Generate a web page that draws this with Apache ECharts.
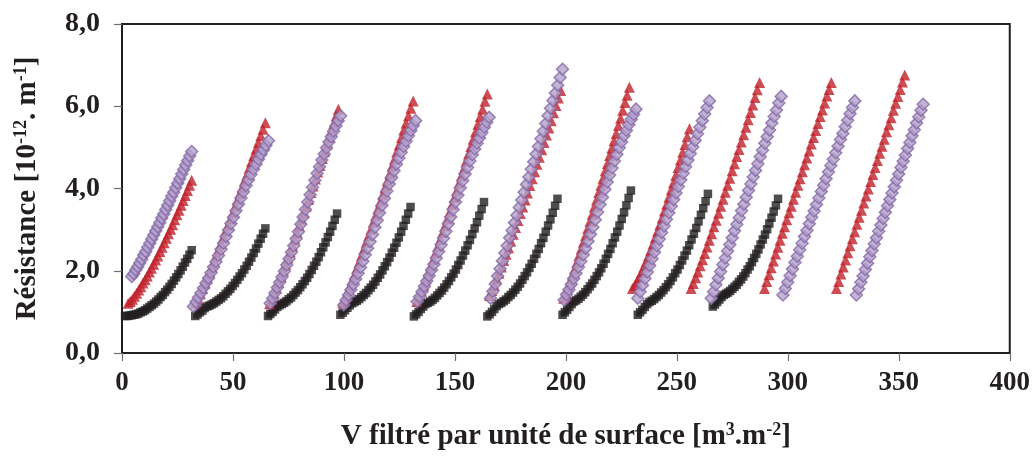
<!DOCTYPE html>
<html><head><meta charset="utf-8">
<script src="https://cdn.jsdelivr.net/npm/echarts@6/dist/echarts.min.js"></script>
<style>html,body{margin:0;padding:0;background:#fff}#c{width:1033px;height:458px}</style>
</head><body><div id="c"></div>
<script>
// ---- data ----
const blackXStart = [1.4, 33.0, 65.8, 98.4, 131.5, 164.6, 198.5, 232.4, 266.2];
const blackXEnd   = [31.4, 64.6, 96.9, 130.0, 163.1, 196.2, 229.3, 264.0, 295.6];
const blackY = [
 [0.90,0.90,0.91,0.92,0.93,0.94,0.96,0.99,1.01,1.04,1.08,1.12,1.16,1.20,1.25,1.30,1.36,1.41,1.48,1.54,1.61,1.68,1.76,1.84,1.92,2.01,2.10,2.20,2.29,2.39,2.50],
 [0.90,0.94,0.99,1.03,1.09,1.13,1.15,1.18,1.21,1.25,1.29,1.33,1.38,1.44,1.50,1.56,1.63,1.70,1.78,1.86,1.94,2.03,2.12,2.22,2.32,2.43,2.54,2.66,2.78,2.90,3.03],
 [0.90,0.95,1.00,1.06,1.12,1.16,1.19,1.22,1.26,1.31,1.35,1.41,1.47,1.53,1.60,1.67,1.75,1.83,1.92,2.02,2.12,2.22,2.33,2.45,2.57,2.69,2.82,2.95,3.09,3.24,3.39],
 [0.93,0.98,1.04,1.10,1.16,1.21,1.24,1.27,1.31,1.36,1.41,1.46,1.53,1.59,1.66,1.74,1.83,1.91,2.01,2.11,2.21,2.32,2.44,2.56,2.68,2.81,2.95,3.09,3.24,3.39,3.55],
 [0.89,0.94,1.00,1.07,1.13,1.19,1.22,1.25,1.29,1.34,1.40,1.46,1.52,1.59,1.67,1.75,1.84,1.93,2.03,2.14,2.25,2.37,2.49,2.62,2.75,2.89,3.03,3.18,3.34,3.50,3.67],
 [0.89,0.94,1.00,1.07,1.14,1.19,1.22,1.26,1.30,1.36,1.41,1.47,1.54,1.61,1.69,1.78,1.87,1.96,2.07,2.17,2.29,2.41,2.53,2.67,2.80,2.95,3.10,3.25,3.41,3.58,3.75],
 [0.93,0.99,1.05,1.12,1.19,1.25,1.28,1.32,1.37,1.42,1.48,1.55,1.62,1.69,1.78,1.87,1.96,2.06,2.17,2.29,2.41,2.53,2.67,2.81,2.95,3.10,3.26,3.42,3.59,3.77,3.95],
 [0.93,0.99,1.05,1.12,1.19,1.24,1.27,1.31,1.36,1.41,1.47,1.53,1.60,1.67,1.75,1.84,1.94,2.03,2.14,2.25,2.37,2.49,2.62,2.76,2.90,3.04,3.20,3.36,3.52,3.69,3.87],
 [1.13,1.18,1.24,1.30,1.36,1.41,1.44,1.47,1.51,1.56,1.61,1.66,1.73,1.79,1.86,1.94,2.03,2.11,2.21,2.31,2.41,2.52,2.64,2.76,2.88,3.01,3.15,3.29,3.44,3.59,3.75]
];

const redXStart = [2.8, 33.2, 66.5, 99.5, 132.8, 165.6, 199.0, 230.0, 256.4, 289.5, 321.9];
const redXEnd   = [31.4, 64.6, 97.5, 131.2, 164.6, 197.7, 228.6, 255.7, 287.3, 319.6, 352.7];
const redY = [
 [1.21,1.25,1.31,1.38,1.45,1.53,1.61,1.70,1.78,1.87,1.97,2.06,2.16,2.26,2.36,2.47,2.57,2.68,2.79,2.90,3.01,3.12,3.24,3.36,3.47,3.59,3.71,3.83,3.95,4.08,4.20],
 [1.22,1.32,1.44,1.57,1.70,1.83,1.97,2.10,2.24,2.39,2.53,2.67,2.82,2.97,3.11,3.26,3.41,3.57,3.72,3.87,4.02,4.18,4.33,4.49,4.65,4.80,4.96,5.12,5.28,5.44,5.60],
 [1.20,1.31,1.44,1.58,1.72,1.86,2.01,2.15,2.31,2.46,2.61,2.77,2.93,3.09,3.25,3.41,3.57,3.73,3.90,4.06,4.23,4.40,4.56,4.73,4.90,5.07,5.24,5.41,5.58,5.76,5.93],
 [1.22,1.34,1.47,1.61,1.76,1.90,2.06,2.21,2.37,2.53,2.69,2.85,3.01,3.18,3.34,3.51,3.68,3.85,4.02,4.19,4.36,4.54,4.71,4.89,5.06,5.24,5.42,5.59,5.77,5.95,6.13],
 [1.25,1.37,1.51,1.65,1.80,1.95,2.11,2.27,2.43,2.59,2.76,2.93,3.09,3.26,3.43,3.61,3.78,3.95,4.13,4.31,4.48,4.66,4.84,5.02,5.20,5.38,5.56,5.75,5.93,6.12,6.30],
 [1.40,1.52,1.65,1.80,1.94,2.09,2.25,2.40,2.56,2.72,2.89,3.05,3.22,3.39,3.55,3.72,3.89,4.07,4.24,4.41,4.59,4.76,4.94,5.12,5.30,5.47,5.65,5.84,6.02,6.20,6.38],
 [1.33,1.45,1.59,1.74,1.89,2.04,2.20,2.37,2.53,2.69,2.86,3.03,3.20,3.37,3.55,3.72,3.90,4.08,4.25,4.43,4.61,4.80,4.98,5.16,5.34,5.53,5.71,5.90,6.09,6.27,6.46],
 [1.57,1.64,1.74,1.84,1.96,2.09,2.22,2.36,2.50,2.65,2.80,2.96,3.12,3.28,3.45,3.62,3.79,3.97,4.14,4.32,4.51,4.69,4.88,5.07,5.26,5.45],
 [1.57,1.69,1.83,1.97,2.12,2.27,2.42,2.58,2.74,2.90,3.07,3.23,3.40,3.57,3.74,3.91,4.08,4.25,4.43,4.60,4.78,4.95,5.13,5.31,5.49,5.67,5.85,6.03,6.21,6.40,6.58],
 [1.57,1.74,1.90,2.07,2.24,2.41,2.57,2.74,2.91,3.07,3.24,3.41,3.57,3.74,3.91,4.08,4.24,4.41,4.58,4.74,4.91,5.08,5.24,5.41,5.58,5.75,5.91,6.08,6.25,6.41,6.58],
 [1.57,1.74,1.92,2.09,2.26,2.44,2.61,2.78,2.95,3.13,3.30,3.47,3.65,3.82,3.99,4.17,4.34,4.51,4.68,4.86,5.03,5.20,5.38,5.55,5.72,5.90,6.07,6.24,6.41,6.59,6.76]
];

const purpleXStart = [4.4, 32.2, 66.8, 99.9, 133.0, 166.0, 199.2, 232.4, 265.5, 297.8, 330.9];
const purpleXEnd   = [31.4, 66.0, 98.5, 132.3, 165.4, 198.5, 231.6, 264.7, 297.0, 330.2, 361.0];
const purpleY = [
 [1.86,1.93,2.02,2.10,2.19,2.28,2.38,2.47,2.57,2.67,2.77,2.87,2.97,3.07,3.17,3.28,3.38,3.49,3.59,3.70,3.81,3.91,4.02,4.13,4.24,4.35,4.46,4.57,4.68,4.79,4.90],
 [1.13,1.24,1.35,1.46,1.58,1.70,1.82,1.95,2.09,2.22,2.37,2.52,2.67,2.83,2.99,3.15,3.30,3.46,3.62,3.77,3.92,4.07,4.21,4.34,4.47,4.59,4.71,4.83,4.94,5.05,5.16],
 [1.21,1.33,1.46,1.59,1.72,1.85,1.99,2.14,2.29,2.45,2.61,2.78,2.95,3.13,3.31,3.49,3.67,3.85,4.03,4.20,4.37,4.53,4.69,4.84,4.99,5.13,5.26,5.39,5.52,5.65,5.77],
 [1.17,1.29,1.41,1.54,1.67,1.80,1.94,2.08,2.23,2.39,2.55,2.71,2.88,3.06,3.23,3.41,3.59,3.76,3.94,4.11,4.27,4.43,4.59,4.74,4.88,5.02,5.15,5.28,5.41,5.53,5.65],
 [1.25,1.37,1.49,1.62,1.75,1.88,2.02,2.16,2.31,2.47,2.63,2.79,2.96,3.14,3.31,3.49,3.67,3.84,4.02,4.19,4.35,4.51,4.67,4.82,4.96,5.10,5.23,5.36,5.49,5.61,5.73],
 [1.33,1.50,1.68,1.87,2.05,2.24,2.43,2.61,2.80,2.98,3.17,3.35,3.54,3.72,3.91,4.10,4.28,4.47,4.65,4.84,5.02,5.21,5.39,5.58,5.77,5.95,6.14,6.32,6.51,6.70,6.90],
 [1.29,1.42,1.54,1.67,1.81,1.94,2.09,2.23,2.39,2.55,2.72,2.89,3.06,3.24,3.43,3.61,3.79,3.98,4.16,4.33,4.50,4.67,4.83,4.99,5.13,5.28,5.41,5.55,5.68,5.80,5.93],
 [1.33,1.49,1.65,1.81,1.97,2.13,2.29,2.45,2.61,2.77,2.93,3.09,3.25,3.41,3.57,3.73,3.89,4.05,4.21,4.37,4.53,4.69,4.85,5.01,5.17,5.33,5.49,5.65,5.81,5.97,6.13],
 [1.33,1.49,1.66,1.82,1.98,2.15,2.31,2.48,2.64,2.80,2.97,3.13,3.29,3.46,3.62,3.79,3.95,4.11,4.28,4.44,4.60,4.77,4.93,5.10,5.26,5.42,5.59,5.75,5.91,6.08,6.24],
 [1.41,1.57,1.72,1.88,2.04,2.20,2.35,2.51,2.67,2.83,2.98,3.14,3.30,3.45,3.61,3.77,3.93,4.08,4.24,4.40,4.56,4.71,4.87,5.03,5.19,5.34,5.50,5.66,5.82,5.97,6.13],
 [1.41,1.56,1.72,1.87,2.03,2.18,2.34,2.49,2.65,2.80,2.96,3.11,3.27,3.42,3.58,3.73,3.89,4.04,4.20,4.35,4.51,4.66,4.81,4.97,5.12,5.28,5.43,5.59,5.74,5.90,6.05]
];

const xMin = 0, xMax = 400, xStep = 50;
const yMin = 0, yMax = 8, yStep = 2;
const xTitle = 'V filtré par unité de surface [m{sup|3}.m{sup|-2}]';
const yTitle = 'Résistance [10{sup|-12}. m{sup|-1}]';

// sample positions of each cycle (volumes evenly spaced between first and last sample)
function build(xs, xe, ys) {
  const pts = [];
  for (let c = 0; c < ys.length; c++) {
    const n = ys[c].length;
    for (let i = 0; i < n; i++) {
      const x = xs[c] + (xe[c] - xs[c]) * i / (n - 1);
      pts.push([Math.round(x * 100) / 100, ys[c][i]]);
    }
  }
  return pts;
}

const FONT = '"Liberation Serif", "Times New Roman", serif';
const AX = '#231f20';
const rich = {
  sup: { fontSize: 18, fontWeight: 'bold', fontFamily: FONT, color: AX, verticalAlign: 'top', lineHeight: 32 },
};

const chart = echarts.init(document.getElementById('c'), null, { renderer: 'canvas' });
chart.setOption({
  animation: false,
  backgroundColor: '#fff',
  textStyle: { fontFamily: FONT },
  grid: { left: 122, right: 23, top: 24, bottom: 104, show: true, borderColor: AX, borderWidth: 2, backgroundColor: 'transparent' },
  xAxis: {
    type: 'value', min: xMin, max: xMax, interval: xStep,
    axisLine: { show: true, onZero: false, lineStyle: { color: AX, width: 2 } },
    axisTick: { show: true, inside: false, length: 8, lineStyle: { color: '#6d6e71', width: 1.2 } },
    splitLine: { show: false },
    axisLabel: { fontSize: 27, fontWeight: 'bold', color: AX, margin: 17, fontFamily: FONT },
    name: xTitle, nameLocation: 'middle', nameGap: 68,
    nameTextStyle: { fontSize: 29, fontWeight: 'bold', color: AX, fontFamily: FONT, lineHeight: 32, rich: rich }
  },
  yAxis: {
    type: 'value', min: yMin, max: yMax, interval: yStep,
    axisLine: { show: true, onZero: false, lineStyle: { color: AX, width: 2 } },
    axisTick: { show: true, inside: false, length: 8, lineStyle: { color: '#6d6e71', width: 1.2 } },
    splitLine: { show: false },
    axisLabel: { fontSize: 28, fontWeight: 'bold', color: AX, margin: 22, fontFamily: FONT,
      formatter: v => v.toFixed(1).replace('.', ',') },
    name: yTitle, nameLocation: 'middle', nameGap: 78, nameRotate: 90,
    nameTextStyle: { fontSize: 29, fontWeight: 'bold', color: AX, fontFamily: FONT, lineHeight: 32, rich: rich }
  },
  series: [
    { type: 'scatter', name: 'noir', data: build(blackXStart, blackXEnd, blackY),
      symbol: 'rect', symbolSize: 8.5, itemStyle: { color: '#231f20' } },
    { type: 'scatter', name: 'rouge', data: build(redXStart, redXEnd, redY),
      symbol: 'triangle', symbolSize: 11, itemStyle: { color: '#c1202b' } },
    { type: 'scatter', name: 'violet', data: build(purpleXStart, purpleXEnd, purpleY),
      symbol: 'diamond', symbolSize: 12, itemStyle: { color: '#b3a3cb', borderColor: '#8466a8', borderWidth: 1.5 } }
  ]
});
</script>
</body></html>
